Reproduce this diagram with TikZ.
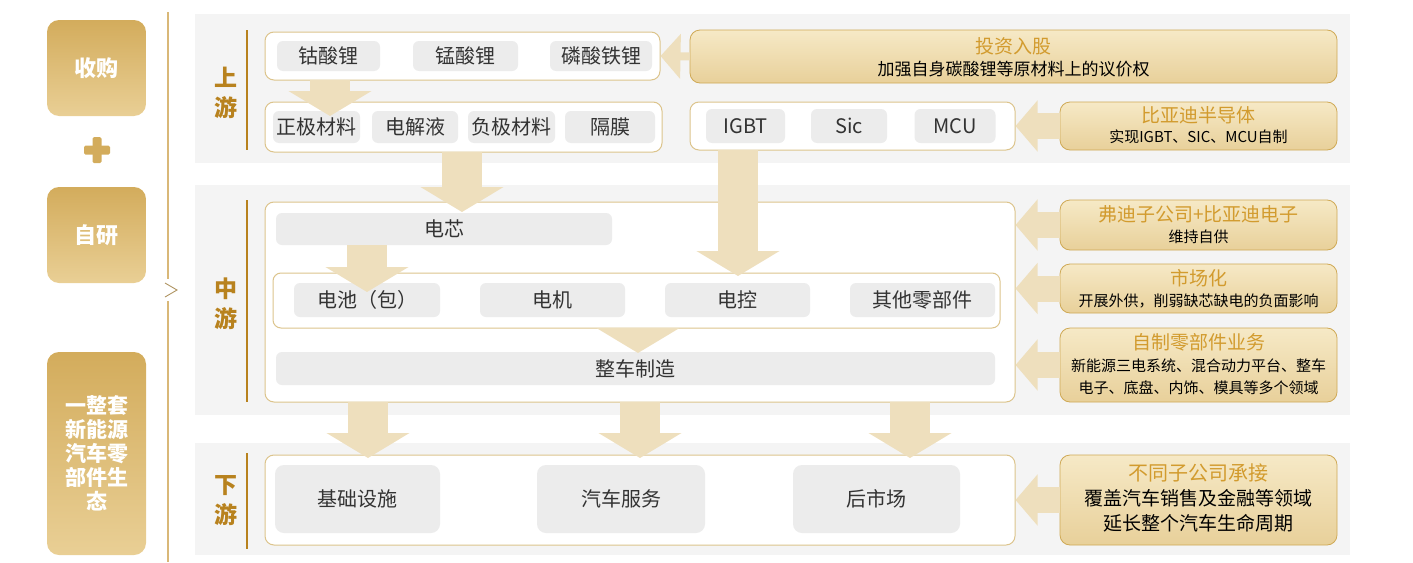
\documentclass[tikz,border=0pt]{standalone}
\usepackage{fontspec}
\setmainfont{Noto Sans CJK SC}
\usetikzlibrary{arrows.meta,calc}
\definecolor{bandgray}{HTML}{F4F4F4}
\definecolor{itemgray}{HTML}{ECECEC}
\definecolor{framegold}{HTML}{DCC48C}
\definecolor{stagegold}{HTML}{B8821E}
\definecolor{goldA}{HTML}{D3AC5C}
\definecolor{goldB}{HTML}{E9CF95}
\definecolor{rboxA}{HTML}{F6E9C6}
\definecolor{rboxB}{HTML}{E8D09A}
\definecolor{rboxline}{HTML}{CFA955}
\definecolor{titlegold}{HTML}{D29B2E}
\definecolor{arrowc}{HTML}{EEDFBD}
\definecolor{txt}{HTML}{333333}
\definecolor{sideline}{HTML}{D9B878}
\begin{document}
\begin{tikzpicture}[x=1pt,y=-1pt,
  band/.style={fill=bandgray,draw=none},
  lbox/.style={rounded corners=12pt,top color=goldA,bottom color=goldB,draw=none,
    text=white,font=\bfseries\fontsize{22}{25}\selectfont,align=center,inner sep=0pt},
  stage/.style={text=stagegold,font=\bfseries\fontsize{23}{30}\selectfont,align=center,inner sep=0pt},
  stageline/.style={draw=stagegold,line width=2pt},
  frame/.style={draw=framegold,line width=1pt,fill=white,rounded corners=9pt,inner sep=0pt},
  item/.style={fill=itemgray,rounded corners=6pt,draw=none,text=txt,inner sep=0pt,
    font=\fontsize{20}{24}\selectfont},
  rbox/.style={rounded corners=10pt,top color=rboxA,bottom color=rboxB,draw=rboxline,
    line width=0.8pt,inner sep=0pt},
  rtitle/.style={text=titlegold,font=\fontsize{19}{22}\selectfont,inner sep=0pt},
  rsub/.style={text=black,font=\fontsize{15}{18}\selectfont,inner sep=0pt},
  rsubbig/.style={text=black,font=\fontsize{19}{22}\selectfont,inner sep=0pt},
  darrow/.style={draw=arrowc,line width=40pt,-{Triangle[width=82pt,length=25pt]}},
  larrow/.style={draw=arrowc,line width=26pt,-{Triangle[width=50pt,length=22pt]}},
  thinarrow/.style={draw=arrowc,line width=8pt,-{Triangle[width=44pt,length=20pt]}}
]
\useasboundingbox (0,0) rectangle (1413,562);
% bands
\fill[band] (195,14) rectangle (1350,163);
\fill[band] (195,185) rectangle (1350,415);
\fill[band] (195,443) rectangle (1350,555);
% left column
\node[lbox,minimum width=99pt,minimum height=96pt] (shougou) at (96.5,68) {收购};
\fill[goldA,rounded corners=1.5pt] (84,145.5) rectangle (110,154.5);
\fill[goldA,rounded corners=1.5pt] (92.5,137) rectangle (101.5,163);
\node[lbox,minimum width=99pt,minimum height=96pt] (ziyan) at (96.5,235) {自研};
\node[lbox,minimum width=99pt,minimum height=203pt,font=\bfseries\fontsize{21}{24}\selectfont] (ecosys) at (96.5,453.5) {一整套\\新能源\\汽车零\\部件生\\态};
\draw[sideline,line width=1.2pt] (168,12) -- (168,279);
\draw[sideline,line width=1.2pt] (168,301) -- (168,562);
\draw[sideline!80!black,line width=0.9pt] (165,283) -- (177,290) -- (165,297);
% stage labels
\node[stage] (sup) at (226,93) {上\\游};
\node[stage] (smid) at (226,304) {中\\游};
\node[stage] (sdown) at (226,501) {下\\游};
\draw[stageline] (247,30) -- (247,150);
\draw[stageline] (247,200) -- (247,402);
\draw[stageline] (247,453) -- (247,549);
% upstream
\node[frame,minimum width=395pt,minimum height=48pt] (top1) at (462.5,56) {};
\node[item,minimum width=103pt,minimum height=30pt] (gsl) at (328.5,56) {钴酸锂};
\node[item,minimum width=105pt,minimum height=30pt] (msl) at (465.5,56) {锰酸锂};
\node[item,minimum width=102pt,minimum height=30pt] (lstl) at (601,56) {磷酸铁锂};
\node[frame,minimum width=397pt,minimum height=50pt] (top2) at (463.5,127) {};
\node[item,minimum width=87pt,minimum height=32pt] (zjcl) at (316.5,127) {正极材料};
\node[item,minimum width=86pt,minimum height=32pt] (djy) at (415,127) {电解液};
\node[item,minimum width=87pt,minimum height=32pt] (fjcl) at (511.5,127) {负极材料};
\node[item,minimum width=90pt,minimum height=32pt] (gm) at (610,127) {隔膜};
\node[frame,minimum width=325pt,minimum height=48pt] (igbtf) at (852.5,126) {};
\node[item,minimum width=79pt,minimum height=34pt] (igbt) at (745.5,126) {IGBT};
\node[item,minimum width=76pt,minimum height=34pt] (sic) at (849,126) {Sic};
\node[item,minimum width=81pt,minimum height=34pt] (mcu) at (955,126) {MCU};
\node[rbox,minimum width=647pt,minimum height=53pt] (tz) at (1013.5,56.5) {};
\node[rtitle] (tz-t) at (1013.5,46) {投资入股};
\node[rsub,font=\fontsize{17}{20}\selectfont] (tz-s) at (1013.5,69) {加强自身碳酸锂等原材料上的议价权};
\node[rbox,minimum width=277pt,minimum height=48pt] (bsemi) at (1198.5,126) {};
\node[rtitle] (bsemi-t) at (1198.5,115) {比亚迪半导体};
\node[rsub] (bsemi-s) at (1198.5,137) {实现IGBT、SIC、MCU自制};
% midstream
\node[frame,minimum width=750pt,minimum height=200pt] (mid) at (640,302) {};
\node[item,minimum width=336pt,minimum height=32pt] (dx) at (444,229) {电芯};
\node[frame,minimum width=727pt,minimum height=55pt,rounded corners=8pt] (inner) at (636.5,300.5) {};
\node[item,minimum width=146pt,minimum height=34pt] (dc) at (367,300) {电池（包）};
\node[item,minimum width=145pt,minimum height=34pt] (dj) at (552.5,300) {电机};
\node[item,minimum width=145pt,minimum height=34pt] (dk) at (737.5,300) {电控};
\node[item,minimum width=145pt,minimum height=34pt] (qt) at (922.5,300) {其他零部件};
\node[item,minimum width=719pt,minimum height=33pt] (zc) at (635.5,368.5) {整车制造};
\node[rbox,minimum width=277pt,minimum height=50pt] (fudi) at (1198.5,225) {};
\node[rtitle] (fudi-t) at (1198.5,214) {弗迪子公司+比亚迪电子};
\node[rsub] (fudi-s) at (1198.5,237) {维持自供};
\node[rbox,minimum width=277pt,minimum height=49pt] (shc) at (1198.5,288.5) {};
\node[rtitle] (shc-t) at (1198.5,278) {市场化};
\node[rsub] (shc-s) at (1198.5,301) {开展外供，削弱缺芯缺电的负面影响};
\node[rbox,minimum width=277pt,minimum height=74pt] (zz) at (1198.5,365) {};
\node[rtitle] (zz-t) at (1198.5,342) {自制零部件业务};
\node[rsub] (zz-s1) at (1198.5,366) {新能源三电系统、混合动力平台、整车};
\node[rsub] (zz-s2) at (1198.5,388) {电子、底盘、内饰、模具等多个领域};
% downstream
\node[frame,minimum width=750pt,minimum height=90pt] (down) at (640,500) {};
\node[item,minimum width=165pt,minimum height=68pt,rounded corners=9pt] (jc) at (357.5,499) {基础设施};
\node[item,minimum width=168pt,minimum height=68pt,rounded corners=9pt] (qcfw) at (621,499) {汽车服务};
\node[item,minimum width=167pt,minimum height=68pt,rounded corners=9pt] (hsc) at (876.5,499) {后市场};
\node[rbox,minimum width=277pt,minimum height=90pt] (bt) at (1198.5,500) {};
\node[rtitle,font=\fontsize{20}{24}\selectfont] (bt-t) at (1198.5,473) {不同子公司承接};
\node[rsubbig] (bt-s1) at (1198.5,498) {覆盖汽车销售及金融等领域};
\node[rsubbig] (bt-s2) at (1198.5,523) {延长整个汽车生命周期};
% arrow coordinates
\coordinate (a1s) at (330,80);   \coordinate (a1e) at (330,116);
\coordinate (a2s) at (462,152);  \coordinate (a2e) at (462,212);
\coordinate (a3s) at (738,150);  \coordinate (a3e) at (738,276);
\coordinate (a4s) at (367,245);  \coordinate (a4e) at (367,292);
\coordinate (a5s) at (638,328);  \coordinate (a5e) at (638,353);
\coordinate (a6s) at (368,402);  \coordinate (a6e) at (368,458);
\coordinate (a7s) at (640,402);  \coordinate (a7e) at (640,458);
\coordinate (a8s) at (910,402);  \coordinate (a8e) at (910,458);
\draw[darrow] (a1s) -- (a1e);
\draw[darrow] (a2s) -- (a2e);
\draw[darrow] (a3s) -- (a3e);
\draw[darrow] (a4s) -- (a4e);
\draw[darrow] (a5s) -- (a5e);
\draw[darrow] (a6s) -- (a6e);
\draw[darrow] (a7s) -- (a7e);
\draw[darrow] (a8s) -- (a8e);
% left arrows
\draw[thinarrow] (tz.west) -- (top1.east);
\draw[larrow] (bsemi.west) -- (igbtf.east);
\draw[larrow] (fudi.west) -- (fudi.west -| mid.east);
\draw[larrow] (shc.west) -- (shc.west -| mid.east);
\draw[larrow] (zz.west) -- (zz.west -| mid.east);
\draw[larrow] (bt.west) -- (down.east);
\end{tikzpicture}
\end{document}
